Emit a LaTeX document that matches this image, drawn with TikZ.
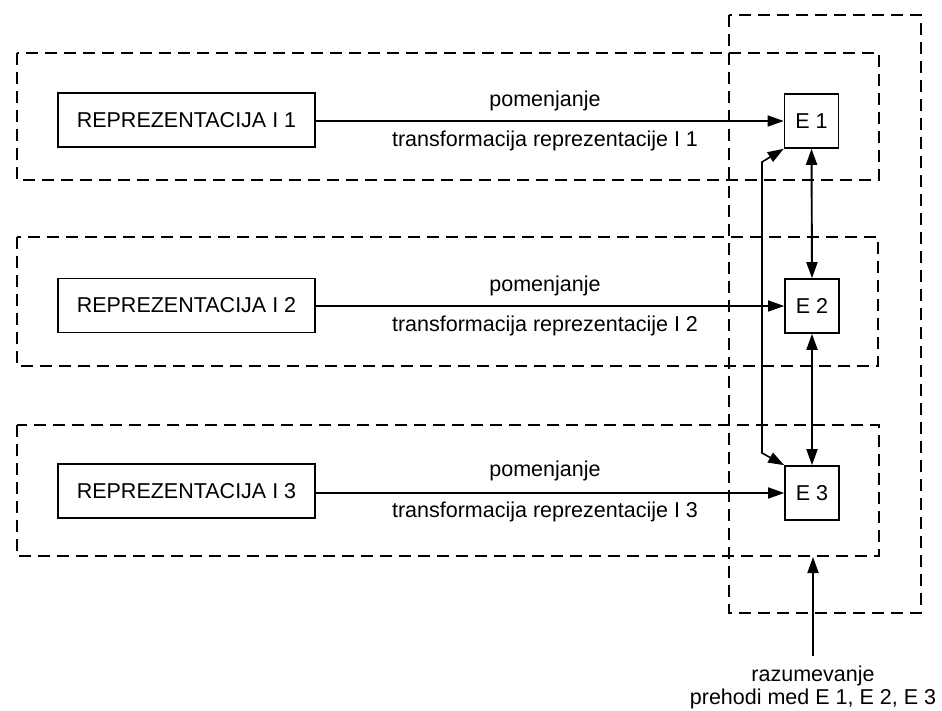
\documentclass[tikz,border=0pt]{standalone}
\usepackage{fontspec}
\setmainfont{Liberation Sans}
\usetikzlibrary{arrows.meta}
\begin{document}
\begin{tikzpicture}[x=1pt,y=-1pt,
  every node/.style={font=\fontsize{21.5}{24}\selectfont},
  grp/.style={draw, line width=1.7pt, dash pattern=on 12pt off 7pt},
  rbox/.style={draw, line width=1.6pt, minimum width=257pt, minimum height=54pt, inner sep=0pt},
  ebox/.style={draw, line width=1.6pt, minimum width=54pt, minimum height=54pt, inner sep=0pt},
  tip/.style={Triangle[length=16pt,width=11pt]},
  arr/.style={line width=1.6pt, -{Triangle[length=16pt,width=11pt]}},
  darr/.style={line width=1.9pt, {Triangle[length=16pt,width=11pt]}-{Triangle[length=16pt,width=11pt]}},
  lbl/.style={inner sep=0pt}]
\useasboundingbox (0,0) rectangle (942,710);
% dashed groups
\draw[grp] (729,15) rectangle (921,613);
\draw[grp] (17,53) rectangle (879,180);
\draw[grp] (17,237) rectangle (878,366);
\draw[grp] (17,425) rectangle (879,556);
% boxes
\node[rbox] (r1) at (186.5,120) {REPREZENTACIJA I 1};
\node[rbox] (r2) at (186.5,305.5) {REPREZENTACIJA I 2};
\node[rbox] (r3) at (186.5,491) {REPREZENTACIJA I 3};
\node[ebox] (e1) at (811.5,121) {E 1};
\node[ebox] (e2) at (812,306) {E 2};
\node[ebox] (e3) at (812,493) {E 3};
% row arrows
\draw[arr] (r1.east |- e1) -- (e1.west);
\draw[arr, line width=1.2pt] (r2.east |- e2) -- (e2.west);
\draw[arr] (r3.east |- e3) -- (e3.west);
% labels
\node[lbl] (p1) at (545,101) {pomenjanje};
\node[lbl] (t1) at (545,141) {transformacija reprezentacije I 1};
\node[lbl] (p2) at (545,286) {pomenjanje};
\node[lbl] (t2) at (545,326) {transformacija reprezentacije I 2};
\node[lbl] (p3) at (545,471) {pomenjanje};
\node[lbl] (t3) at (545,512) {transformacija reprezentacije I 3};
% double arrows
\draw[darr] (e1.south) -- (e2.north);
\draw[darr] (e2.south) -- (e3.north);
% long side connector
\coordinate (c1) at (762,162);
\coordinate (c2) at (762,453);
\draw[line width=1.6pt, {Triangle[length=16pt,width=11pt]}-{Triangle[length=16pt,width=11pt]}]
  (e1.south west) -- (c1) -- (c2) -- (e3.north west);
% bottom input
\coordinate (b0) at (813,656);
\coordinate (b1) at (813,557);
\draw[arr, line width=1.9pt] (b0) -- (b1);
\node[lbl] (z1) at (813,676) {razumevanje};
\node[lbl] (z2) at (813,699) {prehodi med E 1, E 2, E 3};
\end{tikzpicture}
\end{document}
